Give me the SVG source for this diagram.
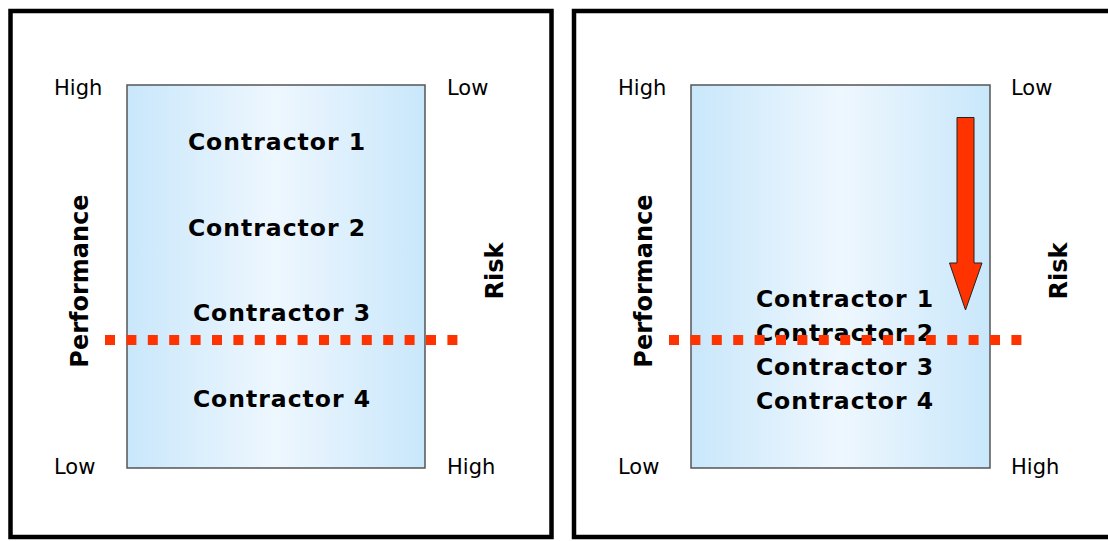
<svg xmlns="http://www.w3.org/2000/svg" width="1108" height="541" viewBox="0 0 1108 541">
<defs>
<linearGradient id="blue" x1="0" y1="0" x2="1" y2="0">
<stop offset="0" stop-color="#c9e7fb"/>
<stop offset="0.5" stop-color="#eef7fe"/>
<stop offset="1" stop-color="#c9e7fb"/>
</linearGradient>
<style>
.frame{fill:#fff;stroke:#000;stroke-width:4.5}
.box{fill:url(#blue);stroke:#555;stroke-width:1.5}
.lbl{font-family:"DejaVu Sans",Verdana,sans-serif;font-size:21px;fill:#000}
.con{font-family:"DejaVu Sans",Verdana,sans-serif;font-size:23.5px;font-weight:bold;fill:#000;text-anchor:middle;letter-spacing:1px}
.ax{font-family:"DejaVu Sans",Verdana,sans-serif;font-size:24px;font-weight:bold;fill:#000;text-anchor:middle}
.dots{stroke:#ff3300;stroke-width:10;stroke-dasharray:10 11.4;fill:none}
</style>
</defs>
<rect width="1108" height="541" fill="#fff"/>
<g id="panel-left">
<rect class="frame" x="10.5" y="11" width="541" height="526"/>
<rect class="box" x="127" y="85" width="298" height="383"/>
<text class="lbl" x="54" y="95">High</text>
<text class="lbl" x="447" y="95">Low</text>
<text class="lbl" x="54" y="474">Low</text>
<text class="lbl" x="447" y="474">High</text>
<text class="con" x="277" y="150">Contractor 1</text>
<text class="con" x="277" y="236">Contractor 2</text>
<text class="con" x="282" y="321">Contractor 3</text>
<text class="con" x="282" y="407">Contractor 4</text>
<text class="ax" transform="translate(88,281) rotate(-90)">Performance</text>
<text class="ax" transform="translate(503,271) rotate(-90)">Risk</text>
</g>
<g id="panel-right">
<rect class="frame" x="574" y="11" width="560" height="526"/>
<rect class="box" x="691" y="85" width="299" height="383"/>
<text class="lbl" x="618" y="95">High</text>
<text class="lbl" x="1011" y="95">Low</text>
<text class="lbl" x="618" y="474">Low</text>
<text class="lbl" x="1011" y="474">High</text>
<text class="con" x="845" y="307">Contractor 1</text>
<text class="con" x="845" y="341">Contractor 2</text>
<text class="con" x="845" y="375">Contractor 3</text>
<text class="con" x="845" y="409">Contractor 4</text>
<text class="ax" transform="translate(652,281) rotate(-90)">Performance</text>
<text class="ax" transform="translate(1067,271) rotate(-90)">Risk</text>
</g>
<g id="connectors">
<line class="dots" x1="105" y1="340" x2="460" y2="340"/>
<line class="dots" x1="669" y1="340" x2="1024" y2="340"/>
<path id="arrow" d="M957,117.5 H974 V263 H982 L965.5,310 L949.5,263 H957 Z" fill="#ff3300" stroke="#222" stroke-width="1"/>
</g>
</svg>
